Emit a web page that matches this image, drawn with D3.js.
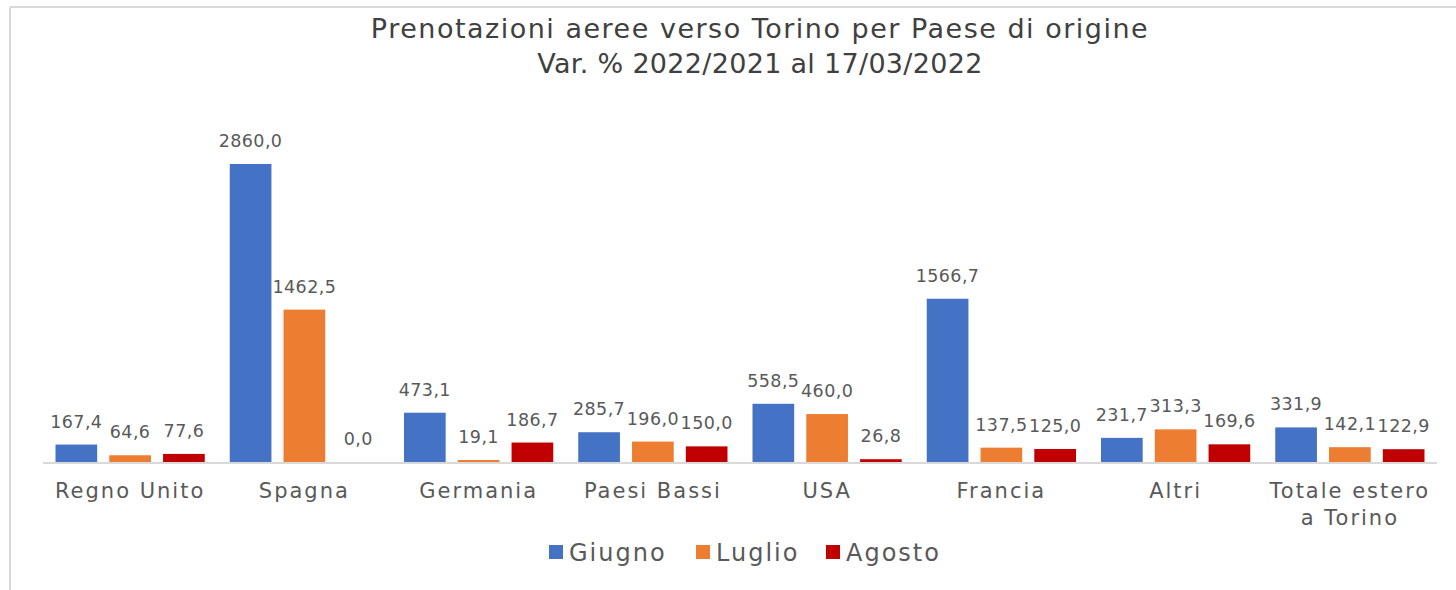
<!DOCTYPE html>
<html>
<head>
<meta charset="utf-8">
<script src="https://cdn.jsdelivr.net/npm/d3@7"></script>
<style>
  html, body { margin: 0; padding: 0; background: #ffffff; }
  svg { display: block; font-family: "DejaVu Sans", sans-serif; }
</style>
</head>
<body>
<svg id="chart" width="1456" height="590"></svg>
<script>
// Countries of origin (category labels, multi-line where needed)
const categories = [
  ["Regno Unito"], ["Spagna"], ["Germania"], ["Paesi Bassi"],
  ["USA"], ["Francia"], ["Altri"], ["Totale estero", "a Torino"]
];
const seriesNames = ["Giugno", "Luglio", "Agosto"];
const giugno = [167.4, 2860.0, 473.1, 285.7, 558.5, 1566.7, 231.7, 331.9];
const luglio = [64.6, 1462.5, 19.1, 196.0, 460.0, 137.5, 313.3, 142.1];
const agosto = [77.6, 0.0, 186.7, 150.0, 26.8, 125.0, 169.6, 122.9];
const seriesColors = ["#4472C4", "#ED7D31", "#C00000"];
const titleLines = ["Prenotazioni aeree verso Torino per Paese di origine", "Var. % 2022/2021 al 17/03/2022"];

const series = [giugno, luglio, agosto];
const svg = d3.select("#chart");
const textColor = "#595959";

// Outer frame (top and left edges visible)
svg.append("line").attr("x1", 10).attr("x2", 1460).attr("y1", 7).attr("y2", 7)
  .attr("stroke", "#d9d9d9").attr("stroke-width", 2);
svg.append("line").attr("x1", 10).attr("x2", 10).attr("y1", 7).attr("y2", 592)
  .attr("stroke", "#d9d9d9").attr("stroke-width", 2);

// Title
svg.append("g").selectAll("text").data(titleLines).join("text")
  .attr("x", 760).attr("y", (d, i) => 38 + i * 35)
  .attr("text-anchor", "middle")
  .attr("fill", "#404040")
  .style("font-size", "27px")
  .style("letter-spacing", (d, i) => i === 0 ? "1.5px" : "0.3px")
  .text(d => d);

// Scales
const plotLeft = 43, plotRight = 1437, baseY = 462;
const x0 = d3.scaleBand().domain(d3.range(categories.length)).range([plotLeft, plotRight]).paddingInner(0).paddingOuter(0);
const groupPad = 12.5;
const x1 = d3.scaleBand().domain(d3.range(series.length))
  .range([groupPad, x0.bandwidth() - groupPad]).paddingInner(0.225).paddingOuter(0);
const y = d3.scaleLinear().domain([0, 3000]).range([baseY, baseY - 312.6]);

// Bars
const groups = svg.append("g").selectAll("g").data(categories).join("g")
  .attr("transform", (d, i) => `translate(${x0(i)},0)`);

const fmt = v => d3.format(".1f")(v).replace(".", ",");

groups.each(function(_, ci) {
  const g = d3.select(this);
  const vals = series.map((s, si) => ({ si, v: s[ci] }));
  g.selectAll("rect").data(vals).join("rect")
    .attr("x", d => x1(d.si))
    .attr("width", x1.bandwidth())
    .attr("y", d => y(d.v))
    .attr("height", d => baseY - y(d.v))
    .attr("fill", d => seriesColors[d.si]);
  g.selectAll("text.val").data(vals).join("text")
    .attr("class", "val")
    .attr("x", d => x1(d.si) + x1.bandwidth() / 2)
    .attr("y", d => y(d.v) - 17)
    .attr("text-anchor", "middle")
    .attr("fill", textColor)
    .style("font-size", "17.5px")
    .style("letter-spacing", "0.4px")
    .text(d => fmt(d.v));
});

// Category axis line
svg.append("line").attr("x1", plotLeft).attr("x2", plotRight).attr("y1", baseY + 1).attr("y2", baseY + 1)
  .attr("stroke", "#d9d9d9").attr("stroke-width", 2);

// Category labels
svg.append("g").selectAll("text").data(categories).join("text")
  .attr("x", (d, i) => x0(i) + x0.bandwidth() / 2)
  .attr("y", 498)
  .attr("text-anchor", "middle")
  .attr("fill", textColor)
  .style("font-size", "21px")
  .style("letter-spacing", "2px")
  .each(function(lines) {
    d3.select(this).selectAll("tspan").data(lines).join("tspan")
      .attr("x", d3.select(this).attr("x"))
      .attr("dy", (d, i) => i === 0 ? 0 : 27)
      .text(d => d);
  });

// Legend
const legendX = [549, 696, 826];
const legend = svg.append("g").selectAll("g").data(seriesNames).join("g")
  .attr("transform", (d, i) => `translate(${legendX[i]},545)`);
legend.append("rect").attr("width", 14).attr("height", 14).attr("fill", (d, i) => seriesColors[i]);
legend.append("text").attr("x", 20).attr("y", 16)
  .attr("fill", textColor).style("font-size", "24px").style("letter-spacing", "2px").text(d => d);
</script>
</body>
</html>
